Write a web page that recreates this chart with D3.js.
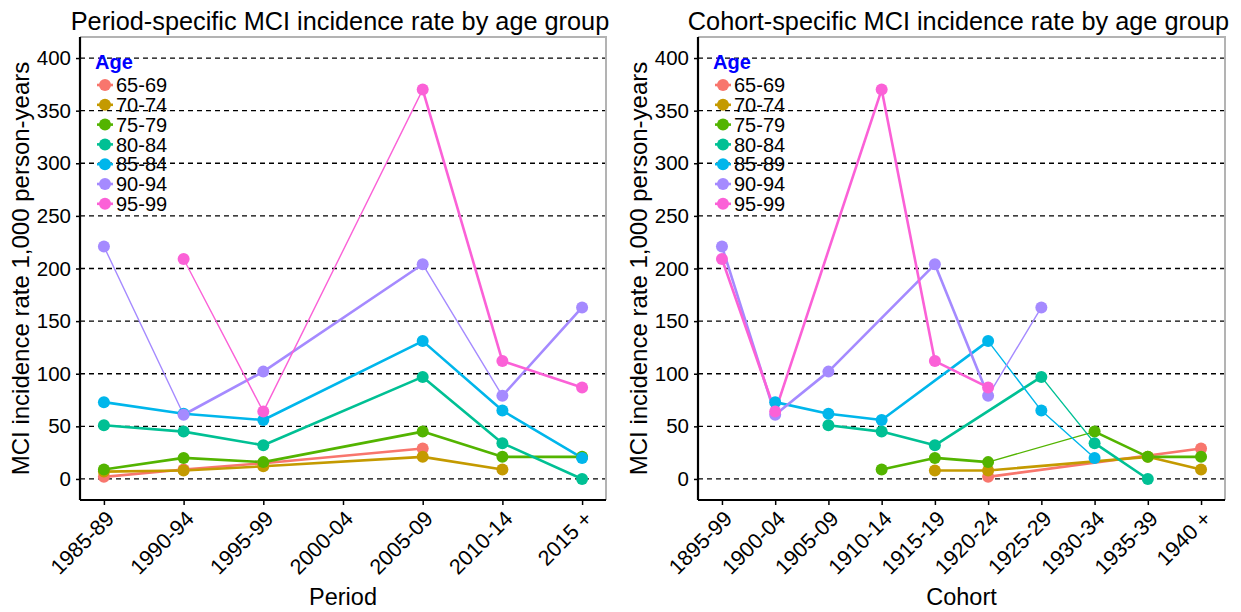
<!DOCTYPE html>
<html>
<head>
<meta charset="utf-8">
<script src="https://cdn.jsdelivr.net/npm/d3@7"></script>
<style>
  body { margin: 0; background: #fff; }
  text { font-family: "Liberation Sans", Arial, sans-serif; }
</style>
</head>
<body>
<div id="chart"></div>
<script>
// Categories
const periodCats = ["1985-89", "1990-94", "1995-99", "2000-04", "2005-09", "2010-14", "2015 +"];
const cohortCats = ["1895-99", "1900-04", "1905-09", "1910-14", "1915-19", "1920-24", "1925-29", "1930-34", "1935-39", "1940 +"];

// Legend labels (left one has "85-84" as in the original)
const periodAges = ["65-69", "70-74", "75-79", "80-84", "85-84", "90-94", "95-99"];
const cohortAges = ["65-69", "70-74", "75-79", "80-84", "85-89", "90-94", "95-99"];
const ageColors = ["#F8766D", "#C49A00", "#53B400", "#00C094", "#00B6EB", "#A58AFF", "#FB61D7"];

// Rates per 1,000 person-years, one row per age group (null = no value)
const periodRates = [
  [2, 9, 15, null, 29, null, null],
  [7, 8, 12, null, 21, 9, null],
  [9, 20, 16, null, 45, 21, 21],
  [51, 45, 32, null, 97, 34, 0],
  [73, 62, 56, null, 131, 65, 20],
  [221, 61, 102, null, 204, 79, 163],
  [null, 209, 64, null, 370, 112, 87]
];
const cohortRates = [
  [null, null, null, null, null, 2, null, null, null, 29],
  [null, null, null, null, 8, 8, null, null, 21, 9],
  [null, null, null, 9, 20, 16, null, 45, 21, 21],
  [null, null, 51, 45, 32, null, 97, 34, 0, null],
  [null, 73, 62, 56, null, 131, 65, 20, null, null],
  [221, 61, 102, null, 204, 79, 163, null, null, null],
  [209, 64, null, 370, 112, 87, null, null, null, null]
];

const yTicks = [0, 50, 100, 150, 200, 250, 300, 350, 400];

// segments drawn with a thinner line: [age row, category index where the segment starts]
const periodThin = [[5, 0], [5, 4], [6, 1], [6, 2]];
const cohortThin = [[5, 5], [4, 5], [4, 6], [3, 6], [2, 5]];

const width = 1241, height = 612;
const svg = d3.select("#chart").append("svg")
    .attr("width", width)
    .attr("height", height);

const yTop = 37, yBottom = 500;
const y = d3.scaleLinear().domain([-20, 420]).range([yBottom, yTop]);
const font = "Liberation Sans, Arial, sans-serif";

function drawPanel(p) {
    const n = p.cats.length;
    const pad = 0.05 * (n - 1);
    const x = d3.scaleLinear().domain([-pad, n - 1 + pad]).range([p.x0, p.x1]);
    const g = svg.append("g");

    // dashed horizontal grid
    g.selectAll(".grid").data(yTicks).enter().append("line")
        .attr("x1", p.x0).attr("x2", p.x1)
        .attr("y1", d => y(d)).attr("y2", d => y(d))
        .attr("stroke", "#000").attr("stroke-width", 1.3)
        .attr("stroke-dasharray", "5,4");

    // panel border (top/right grey)
    g.append("path")
        .attr("d", `M${p.x0},${yTop}H${p.x1}V${yBottom}`)
        .attr("fill", "none").attr("stroke", "#b3b3b3").attr("stroke-width", 2);

    // lines
    p.rates.forEach((row, i) => {
        const pts = row.map((v, j) => ({ j, v })).filter(d => d.v !== null);
        const segs = d3.pairs(pts);
        g.selectAll(null).data(segs).enter().append("line")
            .attr("x1", d => x(d[0].j)).attr("y1", d => y(d[0].v))
            .attr("x2", d => x(d[1].j)).attr("y2", d => y(d[1].v))
            .attr("stroke", ageColors[i])
            .attr("stroke-linecap", "round")
            .attr("stroke-width", d => p.thin.some(t => t[0] === i && t[1] === d[0].j) ? 1.4 : 2.6);
    });

    // points
    p.rates.forEach((row, i) => {
        g.selectAll(null)
            .data(row.map((v, j) => ({ j, v })).filter(d => d.v !== null))
            .enter().append("circle")
            .attr("cx", d => x(d.j)).attr("cy", d => y(d.v))
            .attr("r", 6)
            .attr("fill", ageColors[i]);
    });

    // y axis
    const yAxis = g.append("g").attr("transform", `translate(${p.x0},0)`)
        .call(d3.axisLeft(y).tickValues(yTicks).tickSize(4).tickPadding(5));
    yAxis.select(".domain").attr("d", `M0,${yTop}V${yBottom}`).attr("stroke-width", 2.2);
    yAxis.selectAll(".tick line").attr("stroke-width", 1.5);
    yAxis.selectAll("text").attr("font-size", 20.5).attr("fill", "#000").style("font-family", font);

    // x axis
    const xAxis = g.append("g").attr("transform", `translate(0,${yBottom})`)
        .call(d3.axisBottom(x).tickValues(d3.range(n)).tickFormat(j => p.cats[j]).tickSize(5));
    xAxis.select(".domain").attr("d", `M${p.x0},0H${p.x1}`).attr("stroke-width", 2.2);
    xAxis.selectAll(".tick line").attr("stroke-width", 1.5);
    xAxis.selectAll("text")
        .attr("font-size", 21.5).attr("fill", "#000")
        .style("font-family", font)
        .attr("text-anchor", "end")
        .attr("dy", null).attr("y", 0)
        .attr("transform", "translate(11,20) rotate(-45)");

    // titles
    svg.append("text").attr("x", (p.x0 + p.x1) / 2 - 3).attr("y", 30)
        .attr("text-anchor", "middle").attr("font-size", 25.3).text(p.title);
    svg.append("text").attr("x", (p.x0 + p.x1) / 2).attr("y", 605)
        .attr("text-anchor", "middle").attr("font-size", 23.5).text(p.xTitle);
    svg.append("text")
        .attr("transform", `translate(${p.x0 - 51},${(yTop + yBottom) / 2}) rotate(-90)`)
        .attr("text-anchor", "middle").attr("font-size", 24)
        .text("MCI incidence rate 1,000 person-years");

    // legend
    const lg = g.append("g").attr("transform", `translate(${p.x0 + 15},0)`);
    lg.append("text").attr("x", 0).attr("y", 69)
        .attr("font-size", 20).attr("font-weight", "bold").attr("fill", "#0000FF").text("Age");
    p.ages.forEach((a, i) => {
        const cy = 85 + i * 19.8;
        lg.append("line").attr("x1", 2).attr("x2", 18).attr("y1", cy).attr("y2", cy)
            .attr("stroke", ageColors[i]).attr("stroke-width", 2.6);
        lg.append("circle").attr("cx", 10).attr("cy", cy).attr("r", 6).attr("fill", ageColors[i]);
        lg.append("text").attr("x", 21).attr("y", cy).attr("dy", "0.36em")
            .attr("font-size", 20).text(a);
    });
}

drawPanel({
    cats: periodCats, rates: periodRates, ages: periodAges, thin: periodThin,
    title: "Period-specific MCI incidence rate by age group", xTitle: "Period",
    x0: 80, x1: 606
});
drawPanel({
    cats: cohortCats, rates: cohortRates, ages: cohortAges, thin: cohortThin,
    title: "Cohort-specific MCI incidence rate by age group", xTitle: "Cohort",
    x0: 698, x1: 1225
});
</script>
</body>
</html>
